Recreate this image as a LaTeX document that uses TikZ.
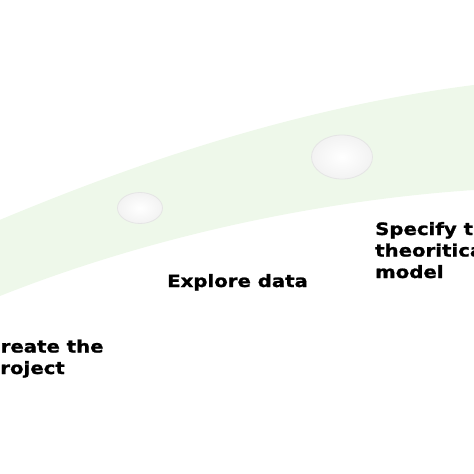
\documentclass[tikz,border=0pt]{standalone}
\usepackage{fontspec}
\usetikzlibrary{positioning, shapes.geometric}
\newfontfamily\stepfont[FakeStretch=1.16,FakeBold=1.2]{DejaVu Sans}
\definecolor{bandgreen}{HTML}{EEF8EA}

\begin{document}
\begin{tikzpicture}[x=1pt,y=-1pt,
    steplabel/.style={inner sep=0pt,align=left,anchor=base west,
        font=\stepfont\bfseries\fontsize{17}{21.5}\selectfont},
    hole/.style={ellipse,inner sep=0pt,draw=black!10,line width=0.8pt,
        shading=radial,inner color=white,outer color=black!5}]
        \useasboundingbox (0,0) rectangle (474,474);
        \clip (0,0) rectangle (474,474);

        % light green band
        \fill[bandgreen] (-10,224) .. controls (130,165) and (300,105) .. (490,83)
            -- (490,189) .. controls (330,198) and (150,235) .. (-10,300) -- cycle;

        \node[hole,minimum width=45pt,minimum height=31pt] (h1) at (140,208) {};
        \node[hole,minimum width=61pt,minimum height=44pt] (h2) at (342,157) {};

        % base anchor is the last line here
        \node[steplabel] (create) at (-14,374) {Create the\\project};
        \node[steplabel] (explore) at (167,287) {Explore data};
        \node[steplabel] (specify) at (375,278) {Specify the\\theoritical\\model};

    \end{tikzpicture}
\end{document}
